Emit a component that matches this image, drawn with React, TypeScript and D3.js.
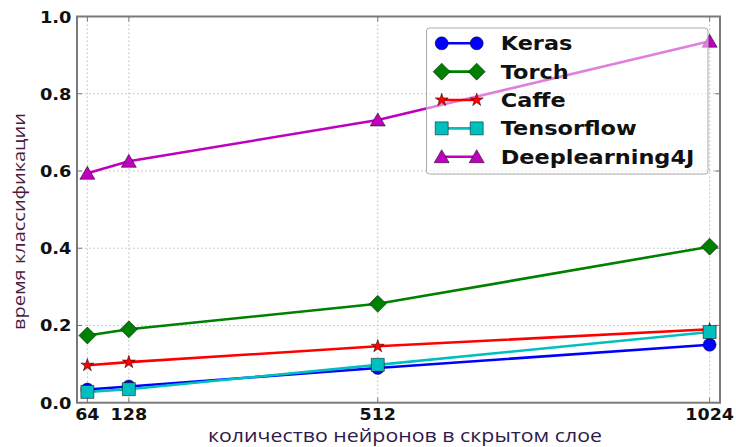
import React from "react";
import * as d3 from "d3";

const neurons = [64, 128, 512, 1024];
const xTicks = [64, 128, 512, 1024];
const yTicks = [0, 0.2, 0.4, 0.6, 0.8, 1.0];
const seriesNames = ["Keras", "Torch", "Caffe", "Tensorflow", "Deeplearning4J"];
const kerasValues = [0.034, 0.042, 0.09, 0.15];
const torchValues = [0.174, 0.19, 0.256, 0.404];
const caffeValues = [0.097, 0.105, 0.146, 0.19];
const tensorflowValues = [0.028, 0.035, 0.098, 0.183];
const dl4jValues = [0.594, 0.625, 0.732, 0.936];
const seriesColors = ["#0000ff", "#008000", "#ff0000", "#00bfbf", "#bf00bf"];
const seriesMarkers = ["circle", "diamond", "star", "square", "triangle"];
const xLabel = "количество нейронов в скрытом слое";
const yLabel = "время классификации";

const allValues = [kerasValues, torchValues, caffeValues, tensorflowValues, dl4jValues];

function markerPath(kind: string): string {
  if (kind === "circle") {
    const p = d3.path();
    p.arc(0, 0, 6.5, 0, Math.PI * 2);
    return p.toString();
  }
  if (kind === "diamond") return "M0,-8.5L8.5,0L0,8.5L-8.5,0Z";
  if (kind === "square") return "M-6.5,-6.5H6.5V6.5H-6.5Z";
  if (kind === "triangle") return "M0,-7L7.5,6L-7.5,6Z";
  return d3.symbol(d3.symbolStar, 52)() as string;
}

export default function App() {
  const W = 736, H = 447;
  const left = 77, right = 720, top = 16.5, bottom = 402.7;
  const x = d3.scaleLinear().domain([48, 1040]).range([left, right]);
  const y = d3.scaleLinear().domain([0, 1]).range([bottom, top]);
  const line = d3.line<number>().x((_, i) => x(neurons[i])).y((d) => y(d));

  const legendX = 426.5, legendY = 28, legendW = 281.5, legendH = 146;
  const rowY = (i: number) => 43.3 + i * 28.35;

  return (
    <svg width={W} height={H} style={{ position: "absolute", left: 0, top: 0, display: "block", background: "#fff" }}>
      <rect x={0} y={0} width={W} height={H} fill="#fff" />
      {/* grid */}
      <g stroke="#bdbdbd" strokeWidth={1} strokeDasharray="1.5,2.5">
        {xTicks.map((t) => (
          <line key={"gx" + t} x1={x(t)} x2={x(t)} y1={top} y2={bottom} />
        ))}
        {yTicks.map((t) => (
          <line key={"gy" + t} x1={left} x2={right} y1={y(t)} y2={y(t)} />
        ))}
      </g>
      {/* ticks inward */}
      <g stroke="#777" strokeWidth={1}>
        {xTicks.map((t) => (
          <g key={"tx" + t}>
            <line x1={x(t)} x2={x(t)} y1={bottom} y2={bottom - 5} />
            <line x1={x(t)} x2={x(t)} y1={top} y2={top + 5} />
          </g>
        ))}
        {yTicks.map((t) => (
          <g key={"ty" + t}>
            <line x1={left} x2={left + 5} y1={y(t)} y2={y(t)} />
            <line x1={right} x2={right - 5} y1={y(t)} y2={y(t)} />
          </g>
        ))}
      </g>
      {/* series */}
      {allValues.map((vals, si) => (
        <g key={"s" + si}>
          <path d={line(vals) as string} fill="none" stroke={seriesColors[si]} strokeWidth={2.6} />
          {vals.map((v, i) => (
            <path
              key={i}
              d={markerPath(seriesMarkers[si])}
              transform={`translate(${x(neurons[i])},${y(v)})`}
              fill={seriesColors[si]}
              stroke="#000"
              strokeWidth={0.5}
            />
          ))}
        </g>
      ))}
      {/* frame */}
      <rect x={left} y={top} width={right - left} height={bottom - top} fill="none" stroke="#7a7a7a" strokeWidth={2} />
      {/* tick labels */}
      <g fontFamily="DejaVu Sans" fontWeight="bold" fontSize={16.5} fill="#111">
        {xTicks.map((t) => (
          <text key={"lx" + t} transform={`translate(${x(t)},419.5) scale(1.06,1)`} textAnchor="middle">
            {String(t)}
          </text>
        ))}
        {yTicks.map((t) => (
          <text key={"ly" + t} transform={`translate(71.5,${y(t) + 6}) scale(1.08,1)`} textAnchor="end">
            {d3.format(".1f")(t)}
          </text>
        ))}
      </g>
      {/* axis labels */}
      <text x={208} y={441.5} fontFamily="Open Sans" fontSize={17.5} fill="#2e1a4a" textLength={394} lengthAdjust="spacingAndGlyphs">
        {xLabel}
      </text>
      <text
        transform="translate(25,221.5) rotate(-90)"
        textAnchor="middle"
        fontFamily="Open Sans"
        fontSize={16.5}
        fill="#4a1a3e"
        textLength={217}
        lengthAdjust="spacingAndGlyphs"
      >
        {yLabel}
      </text>
      {/* legend */}
      <rect x={legendX} y={legendY} width={legendW} height={legendH} rx={3} fill="#fff" fillOpacity={0.5} stroke="#aaa" strokeWidth={1} />
      {seriesNames.map((name, i) => (
        <g key={"lg" + i}>
          <line x1={441.7} x2={476.7} y1={rowY(i)} y2={rowY(i)} stroke={seriesColors[i]} strokeWidth={2.6} />
          {[441.7, 476.7].map((mx) => (
            <path
              key={mx}
              d={markerPath(seriesMarkers[i])}
              transform={`translate(${mx},${rowY(i)})`}
              fill={seriesColors[i]}
              stroke="#000"
              strokeWidth={0.5}
            />
          ))}
          <text
            transform={`translate(500.7,${rowY(i) + 7}) scale(1.18,1)`}
            fontFamily="DejaVu Sans"
            fontWeight="bold"
            fontSize={19}
            fill="#111"
          >
            {name}
          </text>
        </g>
      ))}
    </svg>
  );
}
